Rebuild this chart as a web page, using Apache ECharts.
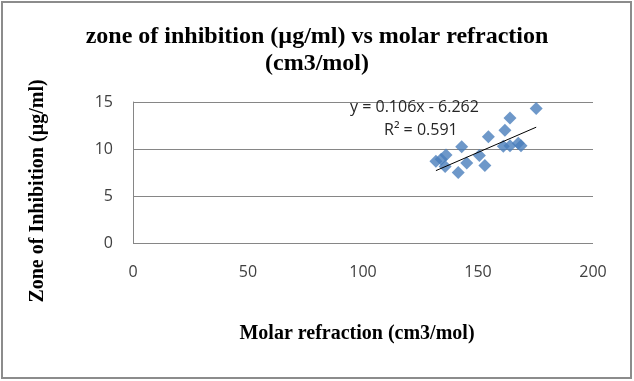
<!DOCTYPE html>
<html>
<head>
<meta charset="utf-8">
<script src="https://cdn.jsdelivr.net/npm/echarts@6/dist/echarts.min.js"></script>
<style>
html,body{margin:0;padding:0;background:#fff;}
#c{width:634px;height:381px;}
</style>
</head>
<body>
<div id="c"></div>
<script>
const molarRefraction = [131.7, 134.0, 136.1, 135.7, 142.9, 141.4, 145.1, 150.6, 153.0, 154.5, 161.7, 163.9, 161.0, 163.9, 167.5, 168.7, 175.3];
const zoneOfInhibition = [8.7, 8.9, 9.35, 8.15, 10.25, 7.5, 8.5, 9.3, 8.25, 11.3, 12.0, 13.3, 10.3, 10.35, 10.6, 10.35, 14.3];
const xTicks = [0, 50, 100, 150, 200];
const yTicks = [0, 5, 10, 15];
const slope = 0.106, intercept = -6.262, r2 = 0.591;

const points = molarRefraction.map((x, i) => [x, zoneOfInhibition[i]]);
const xMin = Math.min(...molarRefraction), xMax = Math.max(...molarRefraction);
const trend = [[xMin, slope * xMin + intercept], [xMax, slope * xMax + intercept]];

const chart = echarts.init(document.getElementById('c'), null, {renderer: 'canvas'});
const tickFont = {fontFamily: 'Open Sans', fontSize: 16, color: '#404040'};
chart.setOption({
  animation: false,
  backgroundColor: '#fff',
  title: {
    text: 'zone of inhibition (µg/ml) vs molar refraction\n(cm3/mol)',
    left: 'center',
    top: 18,
    textStyle: {fontFamily: 'Liberation Serif', fontWeight: 'bold', fontSize: 24, color: '#000', lineHeight: 27}
  },
  grid: {left: 133, right: 41, top: 102, bottom: 138, containLabel: false},
  xAxis: {
    type: 'value', min: xTicks[0], max: xTicks[xTicks.length - 1], interval: 50,
    axisLine: {show: false},
    axisTick: {show: false},
    splitLine: {show: false},
    axisLabel: Object.assign({margin: 21}, tickFont)
  },
  yAxis: {
    type: 'value', min: yTicks[0], max: yTicks[yTicks.length - 1], interval: 5,
    axisLine: {show: true, lineStyle: {color: '#868686', width: 1}},
    axisTick: {show: false},
    splitLine: {show: true, lineStyle: {color: '#868686', width: 1}},
    axisLabel: Object.assign({margin: 20}, tickFont)
  },
  series: [
    {
      type: 'scatter',
      data: points,
      symbol: 'diamond',
      symbolSize: 13,
      itemStyle: {color: '#4a7ebb'},
      z: 3
    },
    {
      type: 'line',
      data: trend,
      symbol: 'none',
      lineStyle: {color: '#000', width: 1},
      z: 4
    }
  ],
  graphic: [
    {type: 'rect', shape: {x: 2, y: 2, width: 629, height: 376}, style: {fill: null, stroke: '#8c8c8c', lineWidth: 2}, z: 10},
    {type: 'text', x: 38, y: 191, rotation: Math.PI / 2,
     style: {text: 'Zone of Inhibition (µg/ml)', fontFamily: 'Liberation Serif', fontWeight: 'bold', fontSize: 20, fill: '#000', align: 'center', verticalAlign: 'middle'}},
    {type: 'text', x: 357, y: 334,
     style: {text: 'Molar refraction (cm3/mol)', fontFamily: 'Liberation Serif', fontWeight: 'bold', fontSize: 20, fill: '#000', align: 'center', verticalAlign: 'middle'}},
    {type: 'text', x: 350, y: 107, z: 5,
     style: {text: 'y = ' + slope.toFixed(3) + 'x - ' + Math.abs(intercept).toFixed(3), fontFamily: 'Open Sans', fontSize: 16, fill: '#262626', align: 'left', verticalAlign: 'middle'}},
    {type: 'text', x: 384, y: 130, z: 5,
     style: {text: 'R² = ' + r2.toFixed(3), fontFamily: 'Open Sans', fontSize: 16, fill: '#262626', align: 'left', verticalAlign: 'middle'}}
  ]
});
</script>
</body>
</html>
